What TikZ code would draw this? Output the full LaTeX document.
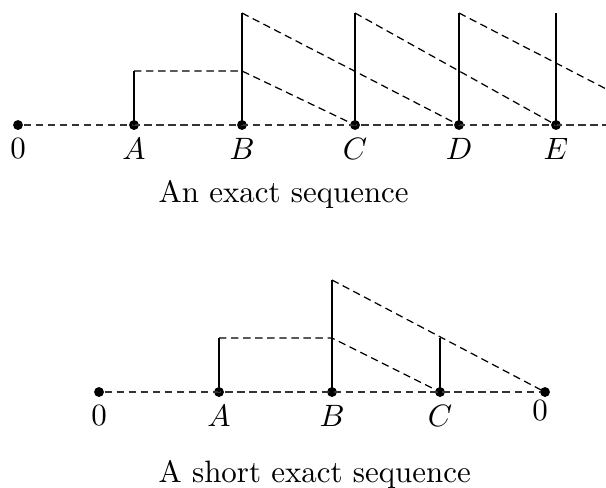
\documentclass[tikz,border=0pt]{standalone}
\usetikzlibrary{positioning}
\definecolor{ink}{HTML}{000000}
\tikzset{
  pt/.style={circle, fill=ink, inner sep=0pt, minimum size=3.2pt},
  lab/.style={text=ink, inner sep=2.4pt},
  bar/.style={draw=ink, line width=0.45pt},
  link/.style={draw=ink, line width=0.4pt, dash pattern=on 2.4pt off 1.5pt},
  axis/.style={draw=ink!80, line width=0.4pt, dash pattern=on 2.4pt off 1.5pt},
  titletext/.style={text=ink, inner sep=0pt, anchor=base west},
}
\def\exactPts{0/18/0, A/134/A, B/242/B, C/355/C, D/459/D, E/556/E}
\def\shortPts{z/99/0, A/219/A, B/332/B, C/440/C}
\begin{document}
\begin{tikzpicture}[x=0.01137cm, y=-0.01137cm]
  \useasboundingbox (0,0) rectangle (606,487);
  \clip (0,0) rectangle (606,487);
  \foreach \n/\x/\t in \exactPts {
    \node[pt, label={[lab]below:$\t$}] (e\n) at (\x,125) {};
  }
  \coordinate (eEnd) at (606,125);
  \coordinate (eNext) at (676,125);
  \path (eA) ++(0,-54) coordinate (eAt);
  \foreach \n in {B,C,D,E} { \path (e\n) ++(0,-112) coordinate (e\n t); }
  \draw[axis] (e0) -- (eEnd);
  \foreach \n in {A,B,C,D,E} { \draw[bar] (e\n.center) -- (e\n t); }
  \draw[link] (eAt) -- (eAt -| eB) -- (eC.center);
  \draw[link] (eBt) -- (eD.center);
  \draw[link] (eCt) -- (eE.center);
  \draw[link] (eDt) -- (eNext);
  \node[titletext] (capExact) at (158,202) {An exact sequence};

  \foreach \n/\x/\t in \shortPts {
    \node[pt, label={[lab]below:$\t$}] (s\n) at (\x,392) {};
  }
  \node[pt, label={[lab, xshift=-1.6pt, yshift=1.6pt]below:$0$}] (sO) at (545,392) {};
  \path (sA) ++(0,-54) coordinate (sAt);
  \path (sB) ++(0,-112) coordinate (sBt);
  \path (sC) ++(0,-54) coordinate (sCt);
  \draw[axis] (sz) -- (sO);
  \foreach \n in {A,B,C} { \draw[bar] (s\n.center) -- (s\n t); }
  \draw[link] (sAt) -- (sAt -| sB) -- (sC.center);
  \draw[link] (sBt) -- (sO.center);
  \node[titletext] (capShort) at (158,482) {A short exact sequence};
\end{tikzpicture}
\end{document}
